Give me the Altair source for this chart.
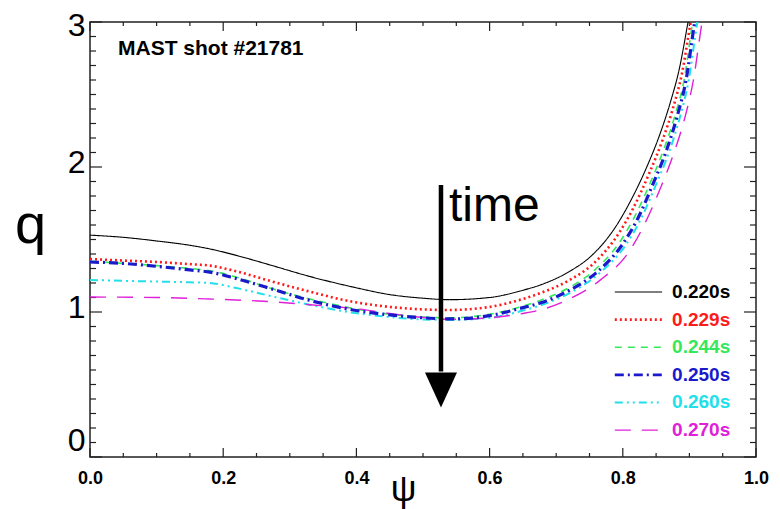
import altair as alt
import pandas as pd

# ---------------- data ----------------
series_names = ["0.220s", "0.229s", "0.244s", "0.250s", "0.260s", "0.270s"]
series_colors = ["#000000", "#ff1a1a", "#33e85a", "#1a1acc", "#20e0ea", "#e020d8"]
series_dashes = [[1, 0], [2, 3], [7, 6], [9, 4, 2, 4], [8, 4, 2, 4, 2, 4], [16, 11]]
series_widths = [1.1, 2.6, 1.6, 3.2, 2.0, 1.4]

psi_220 = [0, 0.05, 0.1, 0.15, 0.18, 0.22, 0.27, 0.33, 0.395, 0.45, 0.5, 0.54, 0.6, 0.65, 0.676, 0.72, 0.751, 0.791, 0.811, 0.836, 0.856, 0.871, 0.885, 0.898, 0.92]
q_220 = [1.53, 1.515, 1.49, 1.46, 1.435, 1.39, 1.325, 1.245, 1.172, 1.12, 1.095, 1.085, 1.10, 1.15, 1.186, 1.28, 1.38, 1.60, 1.76, 2.0, 2.23, 2.44, 2.68, 3.0, 3.55]

psi_229 = [0, 0.05, 0.1, 0.15, 0.18, 0.22, 0.27, 0.33, 0.395, 0.45, 0.5, 0.54, 0.6, 0.65, 0.676, 0.72, 0.755, 0.795, 0.815, 0.84, 0.86, 0.875, 0.889, 0.902, 0.925]
q_229 = [1.365, 1.355, 1.345, 1.33, 1.32, 1.28, 1.215, 1.14, 1.07, 1.035, 1.018, 1.014, 1.035, 1.09, 1.13, 1.22, 1.33, 1.55, 1.71, 1.96, 2.19, 2.40, 2.65, 3.0, 3.55]

psi_244 = [0, 0.05, 0.1, 0.15, 0.18, 0.22, 0.27, 0.33, 0.395, 0.45, 0.5, 0.54, 0.6, 0.65, 0.676, 0.72, 0.758, 0.798, 0.818, 0.843, 0.863, 0.878, 0.892, 0.905, 0.93]
q_244 = [1.35, 1.335, 1.32, 1.30, 1.285, 1.24, 1.165, 1.09, 1.025, 0.985, 0.965, 0.96, 0.985, 1.04, 1.08, 1.17, 1.29, 1.50, 1.66, 1.91, 2.14, 2.35, 2.60, 3.0, 3.55]

psi_250 = [0, 0.05, 0.1, 0.15, 0.18, 0.22, 0.278, 0.33, 0.395, 0.45, 0.5, 0.54, 0.6, 0.65, 0.676, 0.72, 0.76, 0.8, 0.822, 0.846, 0.866, 0.881, 0.895, 0.908, 0.93]
q_250 = [1.345, 1.335, 1.315, 1.29, 1.275, 1.23, 1.152, 1.08, 1.014, 0.98, 0.96, 0.952, 0.975, 1.03, 1.062, 1.15, 1.27, 1.47, 1.64, 1.89, 2.12, 2.34, 2.60, 3.0, 3.5]

psi_260 = [0, 0.05, 0.1, 0.15, 0.18, 0.22, 0.278, 0.33, 0.395, 0.45, 0.5, 0.54, 0.6, 0.65, 0.676, 0.72, 0.763, 0.804, 0.826, 0.85, 0.87, 0.885, 0.899, 0.912, 0.935]
q_260 = [1.221, 1.215, 1.21, 1.205, 1.2, 1.165, 1.103, 1.05, 0.995, 0.965, 0.948, 0.945, 0.96, 1.01, 1.045, 1.13, 1.26, 1.46, 1.63, 1.88, 2.11, 2.33, 2.60, 3.0, 3.5]

psi_270 = [0, 0.1, 0.177, 0.278, 0.33, 0.395, 0.45, 0.5, 0.54, 0.6, 0.65, 0.676, 0.72, 0.766, 0.81, 0.832, 0.857, 0.877, 0.892, 0.906, 0.919, 0.94]
q_270 = [1.103, 1.10, 1.09, 1.069, 1.05, 1.025, 0.99, 0.962, 0.95, 0.96, 0.99, 1.014, 1.09, 1.22, 1.42, 1.60, 1.86, 2.10, 2.32, 2.60, 3.0, 3.5]

series_psi = [psi_220, psi_229, psi_244, psi_250, psi_260, psi_270]
series_q = [q_220, q_229, q_244, q_250, q_260, q_270]

x_tick_labels = [0.0, 0.2, 0.4, 0.6, 0.8, 1.0]
y_tick_labels = [0, 1, 2, 3]
x_minor = [round(i * 0.05, 2) for i in range(21)]
y_minor = [round(i * 0.1, 1) for i in range(31)]

W, H = 666, 435
FONT = "Liberation Sans"

xs = alt.Scale(domain=[0, 1], nice=False, zero=False)
ys = alt.Scale(domain=[0, 3], nice=False, zero=False)

xaxis = alt.Axis(
    values=x_tick_labels, format=".1f", title="ψ",
    titleFont=FONT, titleFontSize=36, titleFontWeight="normal", titleColor="black",
    titleX=313, titleY=43, titleAlign="center", titleBaseline="alphabetic",
    labelFont=FONT, labelFontSize=18, labelFontWeight="bold", labelColor="black",
    labelPadding=12, labelFlush=False, labelOverlap=False,
    ticks=False, domain=False, grid=False,
)
yaxis = alt.Axis(
    values=y_tick_labels, format="d", title="q",
    titleFont=FONT, titleFontSize=56, titleFontWeight="normal", titleColor="black",
    titleAngle=0, titleX=-60, titleY=220, titleAlign="center", titleBaseline="alphabetic",
    labelFont=FONT, labelFontSize=32, labelColor="black", labelPadding=5,
    labelFlush=False, labelOverlap=False,
    labelBaseline={"condition": {"test": "datum.value == 0", "value": "bottom"}, "value": "middle"},
    labelOffset={"condition": [{"test": "datum.value == 3", "value": 3},
                               {"test": "datum.value == 0", "value": 0}], "value": -5},
    ticks=False, domain=False, grid=False,
)


def X(field="psi"):
    return alt.X(f"{field}:Q", scale=xs, axis=xaxis)


def Y(field="q"):
    return alt.Y(f"{field}:Q", scale=ys, axis=yaxis)


layers = []

# tick marks (drawn inside the frame)
tick_color = "#222222"
ymaj = pd.DataFrame({"q": [v for v in y_minor if abs(v - round(v)) < 1e-9]})
ymin = pd.DataFrame({"q": [v for v in y_minor if abs(v - round(v)) >= 1e-9]})
xmaj = pd.DataFrame({"psi": [v for v in x_minor if abs(v / 0.2 - round(v / 0.2)) < 1e-9]})
xmin = pd.DataFrame({"psi": [v for v in x_minor if abs(v / 0.2 - round(v / 0.2)) >= 1e-9]})

for df, ln in [(ymaj, 12), (ymin, 6)]:
    layers.append(alt.Chart(df).mark_rule(color=tick_color, strokeWidth=1.2).encode(
        y=Y(), x=alt.value(0), x2=alt.value(ln)))
    layers.append(alt.Chart(df).mark_rule(color=tick_color, strokeWidth=1.2).encode(
        y=Y(), x=alt.value(W - ln), x2=alt.value(W)))
for df, ln in [(xmaj, 9), (xmin, 4)]:
    layers.append(alt.Chart(df).mark_rule(color=tick_color, strokeWidth=1.2).encode(
        x=X(), y=alt.value(H), y2=alt.value(H - ln)))
    layers.append(alt.Chart(df).mark_rule(color=tick_color, strokeWidth=1.2).encode(
        x=X(), y=alt.value(0), y2=alt.value(ln)))

# curves
draw_order = [0, 1, 2, 4, 5, 3]
for i in draw_order:
    df = pd.DataFrame({"psi": series_psi[i], "q": series_q[i]})
    layers.append(alt.Chart(df).mark_line(
        clip=True, interpolate="monotone", color=series_colors[i],
        strokeDash=series_dashes[i], strokeWidth=series_widths[i]
    ).encode(x=X(), y=Y()))

# legend (inside plot, lower right)
leg_top_q, leg_step = 1.138, 0.1905
for i, name in enumerate(series_names):
    yq = leg_top_q - leg_step * i
    seg = pd.DataFrame({"psi": [0.788], "psi2": [0.859], "q": [yq]})
    layers.append(alt.Chart(seg).mark_rule(
        color=series_colors[i], strokeDash=series_dashes[i], strokeWidth=min(series_widths[i], 2.6)
    ).encode(x=X(), x2="psi2:Q", y=Y()))
    lab = pd.DataFrame({"psi": [0.874], "q": [yq], "t": [name]})
    layers.append(alt.Chart(lab).mark_text(
        align="left", baseline="middle", font=FONT, fontSize=19, fontWeight="bold",
        color=series_colors[i]
    ).encode(x=X(), y=Y(), text="t:N"))

# annotations
title_df = pd.DataFrame({"psi": [0.042], "q": [2.772], "t": ["MAST shot #21781"]})
layers.append(alt.Chart(title_df).mark_text(
    align="left", baseline="alphabetic", font=FONT, fontSize=21, fontWeight="bold", color="black"
).encode(x=X(), y=Y(), text="t:N"))

time_df = pd.DataFrame({"psi": [0.539], "q": [1.628], "t": ["time"]})
layers.append(alt.Chart(time_df).mark_text(
    align="left", baseline="alphabetic", font=FONT, fontSize=48, color="black"
).encode(x=X(), y=Y(), text="t:N"))

stem_df = pd.DataFrame({"psi": [0.527], "q": [1.876], "q2": [0.59]})
layers.append(alt.Chart(stem_df).mark_rule(color="black", strokeWidth=4.5).encode(
    x=X(), y=Y(), y2="q2:Q"))

head_df = pd.DataFrame({"psi": [0.527], "q": [0.462]})
layers.append(alt.Chart(head_df).mark_point(
    shape="M-1,-1.1L1,-1.1L0,1.1Z", filled=True, size=1024, color="black", opacity=1, strokeWidth=0
).encode(x=X(), y=Y()))

chart = alt.layer(*layers).properties(
    width=W, height=H,
    autosize=alt.AutoSizeParams(type="none"),
    padding={"left": 90, "top": 22, "right": 24, "bottom": 52},
    background="white",
).configure_view(stroke="#222222", strokeWidth=1.5)

chart.save("out.html", embed_options={"renderer": "svg", "actions": False})
